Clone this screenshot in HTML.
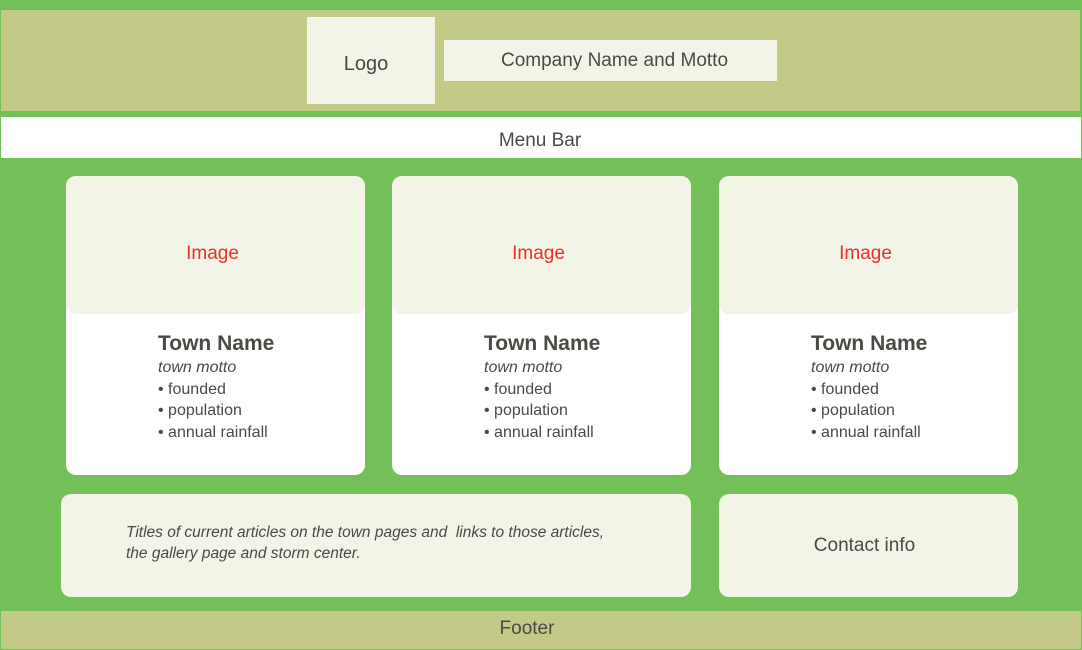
<!DOCTYPE html>
<html><head><style>
*{margin:0;padding:0;box-sizing:border-box}
body{width:1082px;height:650px;position:relative;background:#73bf58;font-family:"Liberation Sans",sans-serif;color:#4a4a44;overflow:hidden}
.a{position:absolute}
.c{display:flex;align-items:center;justify-content:center}
.card{background:#fff;border-radius:10px;overflow:hidden}
.img{position:absolute;left:0;top:0;right:0;height:138px;background:#f2f4e8;border-radius:0 0 10px 10px;color:#e8302b;font-size:19px;padding:18px 6px 0 0}
.txt{position:absolute;left:92px;top:155px;font-size:16px;line-height:21.5px}
.txt b{font-size:21px;display:block;line-height:26px}
.txt i{display:block}
</style></head><body>
<div class="a" style="left:1px;top:10px;width:1079px;height:101px;background:#c3ca88"></div>
<div class="a c" style="left:307px;top:17px;width:128px;height:87px;background:#f2f4e8;font-size:20px;padding:8px 10px 0 0">Logo</div>
<div class="a c" style="left:444px;top:40px;width:333px;height:41px;background:#f2f4e8;font-size:19px;padding:0 0 0 8px">Company Name and Motto</div>
<div class="a c" style="left:1px;top:117px;width:1080px;height:41px;background:#fff;font-size:19px;padding:6px 2px 0 0">Menu Bar</div>

<div class="a card" style="left:66px;top:176px;width:299px;height:299px"><div class="img c">Image</div><div class="txt"><b>Town Name</b><i>town motto</i>• founded<br>• population<br>• annual rainfall</div></div>
<div class="a card" style="left:392px;top:176px;width:299px;height:299px"><div class="img c">Image</div><div class="txt"><b>Town Name</b><i>town motto</i>• founded<br>• population<br>• annual rainfall</div></div>
<div class="a card" style="left:719px;top:176px;width:299px;height:299px"><div class="img c">Image</div><div class="txt"><b>Town Name</b><i>town motto</i>• founded<br>• population<br>• annual rainfall</div></div>

<div class="a" style="left:61px;top:494px;width:630px;height:103px;background:#f2f4e8;border-radius:10px"><div style="position:absolute;left:65px;top:28px;font-size:15.5px;font-style:italic;line-height:21px">Titles of current articles on the town pages and &nbsp;links to those articles,<br>the gallery page and storm center.</div></div>
<div class="a c" style="left:719px;top:494px;width:299px;height:103px;background:#f2f4e8;border-radius:10px;font-size:19px;padding:0 8px 0 0">Contact info</div>
<div class="a c" style="left:1px;top:611px;width:1080px;height:38px;background:#c3ca88;font-size:19px;padding:0 28px 3px 0">Footer</div>
</body></html>
